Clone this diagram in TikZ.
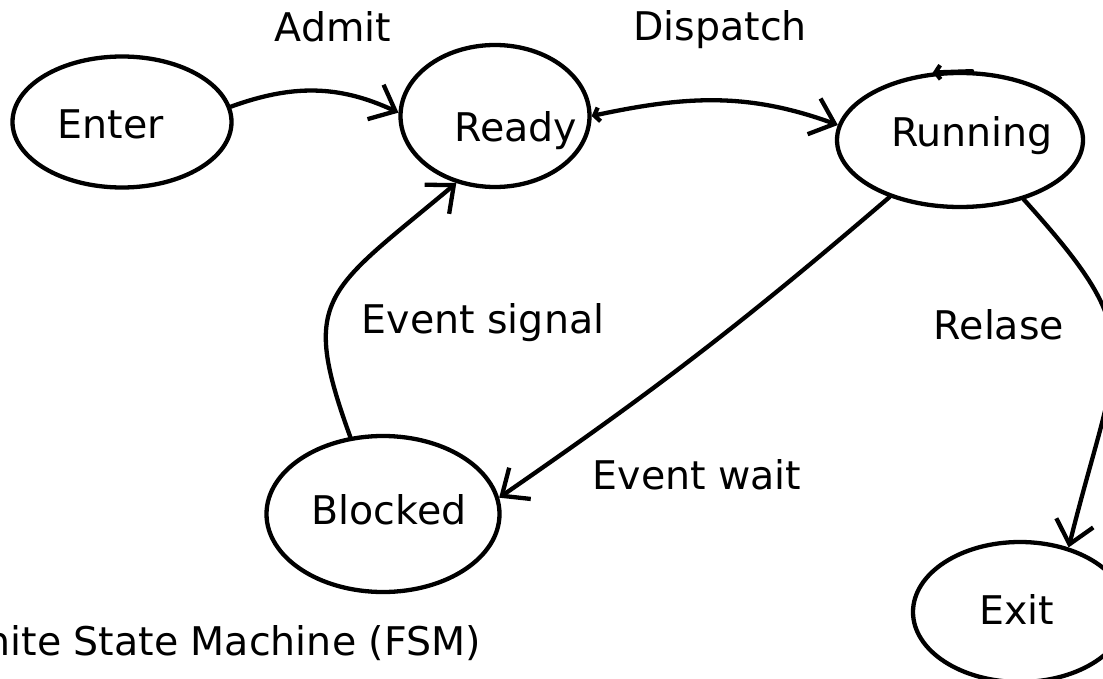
\documentclass[tikz,border=0pt]{standalone}
\usepackage{fontspec}
\setmainfont{DejaVu Sans}
\usetikzlibrary{shapes.geometric,arrows.meta}

\begin{document}
\begin{tikzpicture}[x=1pt, y=-1pt, line width=4.3pt, line cap=round, line join=round,
    main/.style = {draw, ellipse, inner sep=0pt},
    txt/.style = {font=\fontsize{39.5}{47}\selectfont, inner sep=0pt},
    arr/.style = {-{Straight Barb[length=22pt,width=38pt]}},
    tip/.style = {-{Straight Barb[length=5pt,width=14pt]}}]
    \useasboundingbox (0,0) rectangle (1103,679);
    \clip (0,0) rectangle (1103,679);
    \node[main, minimum width=219pt, minimum height=131pt] (1) at (122,122) {};
    \node[main, minimum width=189pt, minimum height=142pt] (2) at (495,116) {};
    \node[main, minimum width=246pt, minimum height=134pt] (3) at (960,140) {};
    \node[main, minimum width=233pt, minimum height=156pt] (4) at (383,514) {};
    \node[main, minimum width=214pt, minimum height=140pt] (5) at (1020,612) {};
    \node[txt] (t1) at (111,124) {Enter};
    \node[txt] (t2) at (516,131) {Ready};
    \node[txt] (t3) at (972,136) {Running};
    \node[txt] (t4) at (389,510) {Blocked};
    \node[txt] (t5) at (1017,609) {Exit};
    \node[txt] (l1) at (333,27) {Admit};
    \node[txt] (l2) at (720,30) {Dispatch};
    \node[txt] (l3) at (483,323) {Event signal};
    \node[txt] (l4) at (999,325) {Relase};
    \node[txt] (l5) at (697,475) {Event wait};
    \node[txt, anchor=east] (l6) at (483,643) {Finite State Machine (FSM)};
    \draw[arr] (1.8) to[out=20, in=155] (2.178);
    \draw[{Straight Barb[length=5pt,width=14pt]}-{Straight Barb[length=22pt,width=38pt]}] (2.0) to[out=12, in=160] (3.173);
    \draw[tip] (3.80) -- (3.112);
    \draw[arr] (3.219) to[bend left=3] (4.8);
    \draw[arr] (4.113) to[out=110, in=220, out distance=150pt, in distance=170pt] (2.240);
    \draw[arr] (3.317) to[out=-48, in=76, out distance=190pt, in distance=210pt] (5.53);
\end{tikzpicture}
\end{document}
